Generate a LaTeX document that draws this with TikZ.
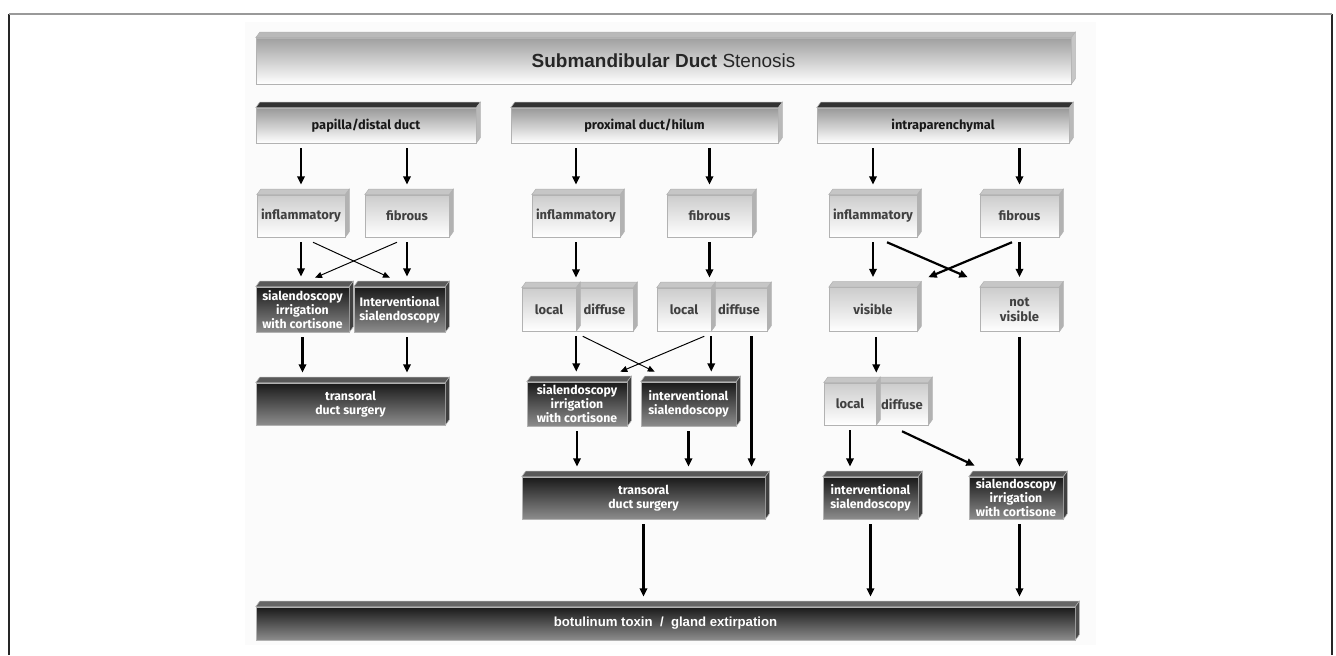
\documentclass[tikz,border=0pt]{standalone}
\usepackage{fontspec}
\setmainfont{Fira Sans}
\newfontfamily\arialfont{Liberation Sans}
\usetikzlibrary{arrows.meta}

\tikzset{
  plain/.style={rectangle, inner sep=0pt, align=center, draw=gray!60, line width=0.3pt,
    font=\fontsize{7}{8}\selectfont\bfseries, text=black!75},
  light/.style={plain, top color=gray!40, bottom color=white, font=\fontsize{7.4}{8.6}\selectfont\bfseries},
  header/.style={plain, top color=gray!80, bottom color=white, minimum height=0.7cm,
    text=black!90, font=\fontsize{7.3}{8.5}\selectfont\bfseries},
  dark/.style={plain, top color=black!90, bottom color=black!45, text=white},
  arr/.style={-{Triangle[length=4.8pt,width=4.2pt]}, line width=1.25pt, shorten <=0.1cm, shorten >=0.2cm},
  crossarr/.style={-{Triangle[length=4pt,width=3.4pt]}, line width=0.55pt},
  boldcross/.style={-{Triangle[length=4.8pt,width=4.2pt]}, line width=1.25pt}
}
\newcommand{\boxfaces}[3]{%
  \filldraw[fill=#2, draw=gray!60, line width=0.3pt] (#1.north west) -- ++(0.08,0.11)
    -- ([shift={(0.08,0.11)}]#1.north east) -- (#1.north east) -- cycle;
  \filldraw[fill=#3, draw=gray!60, line width=0.3pt] (#1.north east) -- ++(0.08,0.11)
    -- ([shift={(0.08,0.11)}]#1.south east) -- (#1.south east) -- cycle;
}

\begin{document}
\begin{tikzpicture}
\useasboundingbox (0,0) rectangle (26.72,13.1);
\fill[black!1.5] (4.9,0.2) rectangle (21.92,12.66);
\draw[black!85, line width=0.7pt] (0.18,0) -- (0.18,12.82);
\draw[black!85, line width=0.7pt] (26.64,0) -- (26.64,12.82);
\draw[gray!80, line width=0.7pt] (0.18,12.82) -- (26.64,12.82);

\node[plain, top color=gray!75, bottom color=white, minimum width=16.3cm, minimum height=0.92cm,
  font=\fontsize{10.8}{13}\selectfont\arialfont, text=black!85] (title) at (13.27,11.88)
  {\textbf{Submandibular Duct} Stenosis};

\node[header, minimum width=4.4cm] (hdA) at (7.32,10.59) {papilla/distal duct};
\node[header, minimum width=5.34cm] (hdB) at (12.89,10.59) {proximal duct/hilum};
\node[header, minimum width=5.04cm] (hdC) at (18.86,10.59) {intraparenchymal};

\node[light, minimum width=1.76cm, minimum height=0.84cm] (inflA) at (6.02,8.78) {inflammatory};
\node[light, minimum width=1.68cm, minimum height=0.84cm] (fibA) at (8.14,8.78) {fibrous};
\node[light, minimum width=1.76cm, minimum height=0.84cm] (inflB) at (11.52,8.78) {inflammatory};
\node[light, minimum width=1.7cm, minimum height=0.84cm] (fibB) at (14.19,8.78) {fibrous};
\node[light, minimum width=1.76cm, minimum height=0.84cm] (inflC) at (17.46,8.78) {inflammatory};
\node[light, minimum width=1.58cm, minimum height=0.84cm] (fibC) at (20.39,8.78) {fibrous};

\node[dark, minimum width=1.86cm, minimum height=0.9cm] (sialA) at (6.05,6.91) {sialendoscopy\\irrigation\\with cortisone};
\node[dark, minimum width=1.82cm, minimum height=0.9cm] (intA) at (7.99,6.91) {Interventional\\sialendoscopy};
\node[light, minimum width=1.08cm, minimum height=0.86cm] (locB1) at (10.98,6.91) {local};
\node[light, minimum width=1.14cm, minimum height=0.86cm] (difB1) at (12.09,6.91) {diffuse};
\node[light, minimum width=1.08cm, minimum height=0.86cm] (locB2) at (13.68,6.91) {local};
\node[light, minimum width=1.12cm, minimum height=0.86cm] (difB2) at (14.78,6.91) {diffuse};
\node[light, minimum width=1.76cm, minimum height=0.88cm] (vis) at (17.46,6.91) {visible};
\node[light, minimum width=1.58cm, minimum height=0.88cm] (nvis) at (20.39,6.91) {not\\visible};

\node[dark, minimum width=3.78cm, minimum height=0.84cm] (tranA) at (7.01,5.02) {transoral\\duct surgery};
\node[dark, minimum width=2cm, minimum height=0.88cm] (sialB) at (11.54,5.02) {sialendoscopy\\irrigation\\with cortisone};
\node[dark, minimum width=1.9cm, minimum height=0.88cm] (intB) at (13.77,5.02) {interventional\\sialendoscopy};
\node[light, minimum width=1.04cm, minimum height=0.84cm] (locC) at (17,5.02) {local};
\node[light, minimum width=1.04cm, minimum height=0.84cm] (difC) at (18.04,5.02) {diffuse};

\node[dark, minimum width=4.86cm, minimum height=0.84cm] (tranB) at (12.87,3.14) {transoral\\duct surgery};
\node[dark, minimum width=1.9cm, minimum height=0.84cm] (intC) at (17.41,3.14) {interventional\\sialendoscopy};
\node[dark, minimum width=1.88cm, minimum height=0.84cm] (sialC) at (20.32,3.14) {sialendoscopy\\irrigation\\with cortisone};

\node[dark, minimum width=16.38cm, minimum height=0.66cm, font=\fontsize{7.5}{9}\selectfont\arialfont\bfseries] (final) at (13.31,0.63) {botulinum toxin~~/~~gland extirpation};

\boxfaces{title}{gray!55}{gray!45}
\foreach \n in {hdA,hdB,hdC} {\boxfaces{\n}{black!80}{gray!55}}
\foreach \n in {inflA,fibA,inflB,fibB,inflC,fibC,difB1,locB1,difB2,locB2,vis,nvis,difC,locC} {\boxfaces{\n}{gray!45}{gray!60}}
\foreach \n in {sialA,intA,tranA,sialB,intB,tranB,intC,sialC} {\boxfaces{\n}{black!65}{black!75}}
\boxfaces{final}{black!60}{black!70}

\draw[arr] (hdA.south -| inflA) -- (inflA.north);
\draw[arr] (hdA.south -| fibA) -- (fibA.north);
\draw[arr] (inflA.south) -- (inflA.south |- sialA.north);
\draw[arr] (fibA.south) -- (fibA.south |- intA.north);
\draw[crossarr] ([xshift=0.24cm,yshift=-0.1cm]inflA.south) -- ([xshift=-0.19cm,yshift=0.18cm]intA.north);
\draw[crossarr] ([xshift=-0.2cm,yshift=-0.1cm]fibA.south) -- ([xshift=0.25cm,yshift=0.18cm]sialA.north);
\draw[arr] (sialA.south) -- (sialA.south |- tranA.north);
\draw[arr] (intA.south -| fibA) -- (tranA.north -| fibA);

\draw[arr] (hdB.south -| inflB) -- (inflB.north);
\draw[arr] (hdB.south -| fibB) -- (fibB.north);
\draw[arr] (inflB.south) -- (inflB.south |- locB1.north);
\draw[arr] (fibB.south) -- (fibB.south |- locB2.north);
\draw[arr] (locB1.south east) -- (locB1.south east |- sialB.north);
\draw[arr] (locB2.south east) -- (locB2.south east |- intB.north);
\draw[arr] (difB2.-60) -- (difB2.-60 |- tranB.north);
\draw[crossarr] ([xshift=0.14cm,yshift=-0.1cm]difB1.south west) -- ([xshift=0.28cm,yshift=0.2cm]intB.north west);
\draw[crossarr] ([xshift=-0.14cm,yshift=-0.1cm]locB2.south east) -- ([xshift=-0.14cm,yshift=0.2cm]sialB.north east);
\draw[arr] (sialB.south) -- (sialB.south |- tranB.north);
\draw[arr] (intB.south) -- (intB.south |- tranB.north);
\draw[arr] (tranB.south) -- (tranB.south |- final.north);

\draw[arr] (hdC.south -| inflC) -- (inflC.north);
\draw[arr] (hdC.south -| fibC) -- (fibC.north);
\draw[arr] (inflC.south) -- (vis.north);
\draw[arr] (fibC.south) -- (nvis.north);
\draw[boldcross] ([xshift=0.28cm,yshift=-0.1cm]inflC.south) -- ([xshift=-0.24cm,yshift=0.2cm]nvis.north west);
\draw[boldcross] ([xshift=-0.15cm,yshift=-0.1cm]fibC.south) -- ([xshift=0.22cm,yshift=0.2cm]vis.north east);
\draw[arr] (vis.south -| locC.east) -- (locC.north east);
\draw[arr] (locC.south) -- (locC.south |- intC.north);
\draw[boldcross] ([yshift=-0.12cm]difC.south) -- ([xshift=0.12cm,yshift=0.22cm]sialC.north west);
\draw[arr] (nvis.south) -- (nvis.south |- sialC.north);
\draw[arr] (intC.south) -- (intC.south |- final.north);
\draw[arr] (sialC.south -| nvis) -- (final.north -| nvis);
\end{tikzpicture}
\end{document}
